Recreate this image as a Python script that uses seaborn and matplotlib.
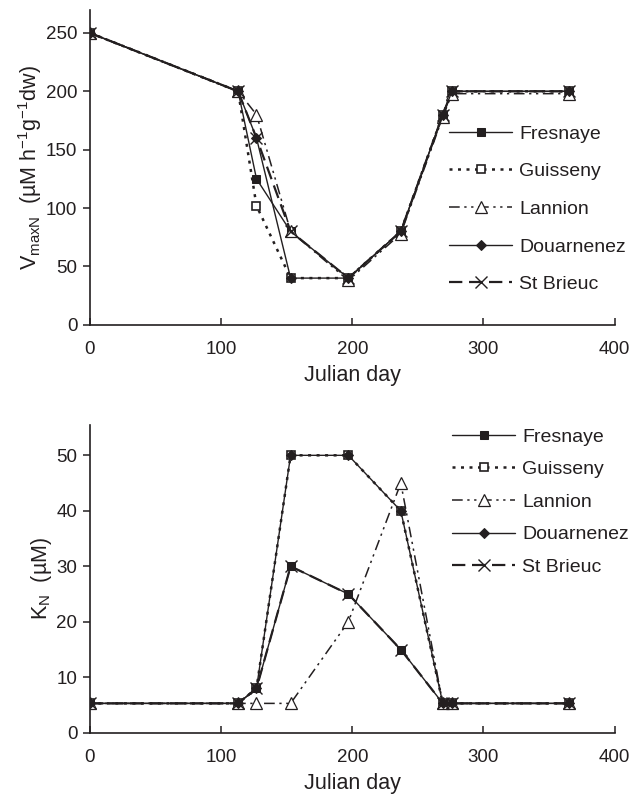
import matplotlib
matplotlib.use("Agg")
import matplotlib.pyplot as plt
import seaborn as sns
import numpy as np

sites = ["Fresnaye", "Guisseny", "Lannion", "Douarnenez", "St Brieuc"]
days = [0, 113, 127, 153, 197, 237, 269, 276, 365]

vmax_fresnaye = [250, 200, 125, 80, 40, 80, 180, 200, 200]
vmax_guisseny = [250, 200, 102, 40, 40, 80, 180, 200, 200]
vmax_lannion = [250, 200, 180, 80, 38, 78, 178, 198, 198]
vmax_douarnenez = [250, 200, 160, 40, 40, 80, 180, 200, 200]
vmax_stbrieuc = [250, 200, 160, 80, 40, 80, 180, 200, 200]

kn_fresnaye = [5.3, 5.3, 8, 30, 25, 15, 5.3, 5.3, 5.3]
kn_guisseny = [5.3, 5.3, 8, 50, 50, 40, 5.3, 5.3, 5.3]
kn_lannion = [5.3, 5.3, 5.3, 5.3, 20, 45, 5.3, 5.3, 5.3]
kn_douarnenez = [5.3, 5.3, 8, 50, 50, 40, 5.3, 5.3, 5.3]
kn_stbrieuc = [5.3, 5.3, 8, 30, 25, 15, 5.3, 5.3, 5.3]

x_ticks = [0, 100, 200, 300, 400]
vmax_ticks = [0, 50, 100, 150, 200, 250]
kn_ticks = [0, 10, 20, 30, 40, 50]

sns.set_style("ticks")
plt.rcParams["font.family"] = ["Liberation Sans", "DejaVu Sans"]
plt.rcParams["mathtext.default"] = "regular"

ink = "#231f20"
styles = {
    "Fresnaye": dict(marker="s", markersize=6, markerfacecolor=ink, markeredgecolor=ink,
                     linestyle="-", linewidth=1.0),
    "Guisseny": dict(marker="s", markersize=6, markerfacecolor="white", markeredgecolor=ink,
                     markeredgewidth=1.2, linestyle=(0, (1.2, 2.2)), linewidth=1.8),
    "Lannion": dict(marker="^", markersize=9, markerfacecolor="white", markeredgecolor=ink,
                    markeredgewidth=0.9, linestyle=(0, (7, 3, 1.5, 3, 1.5, 3)), linewidth=1.1),
    "Douarnenez": dict(marker="D", markersize=5, markerfacecolor=ink, markeredgecolor=ink,
                       linestyle="-", linewidth=1.0),
    "St Brieuc": dict(marker="x", markersize=8, markeredgecolor=ink, markeredgewidth=1.0,
                      linestyle=(0, (6, 3)), linewidth=1.6),
}

fig = plt.figure(figsize=(6.33, 8.0), dpi=100)
ax1 = fig.add_axes([0.142, 0.594, 0.829, 0.394])
ax2 = fig.add_axes([0.142, 0.084, 0.829, 0.385])

top_series = [vmax_fresnaye, vmax_guisseny, vmax_lannion, vmax_douarnenez, vmax_stbrieuc]
bot_series = [kn_fresnaye, kn_guisseny, kn_lannion, kn_douarnenez, kn_stbrieuc]

for ax, series in [(ax1, top_series), (ax2, bot_series)]:
    for name, vals in zip(sites, series):
        sns.lineplot(x=days, y=vals, ax=ax, color=ink, label=name, **styles[name])

ax1.set_ylim(0, 270)
ax1.set_yticks(vmax_ticks)
ax2.set_ylim(0, 55.5)
ax2.set_yticks(kn_ticks)

ax1.set_ylabel("V$_{maxN}$  (µM h$^{-1}$g$^{-1}$dw)", fontsize=15.5, color=ink, labelpad=1)
ax2.set_ylabel("K$_{N}$  (µM)", fontsize=15.5, color=ink, labelpad=2)

for ax in (ax1, ax2):
    ax.set_xlim(0, 400)
    ax.set_xticks(x_ticks)
    ax.set_xlabel("Julian day", fontsize=15.5, color=ink, labelpad=5)
    sns.despine(ax=ax)
    for s in ("left", "bottom"):
        ax.spines[s].set_color(ink)
        ax.spines[s].set_linewidth(1.2)
    ax.tick_params(axis="y", direction="out", length=5, width=1.1, colors=ink, labelsize=13.5, pad=4)
    ax.tick_params(axis="x", direction="in", length=5, width=1.1, colors=ink, labelsize=13.5, pad=12)
    ax.legend_.remove()

leg_kw = dict(frameon=False, fontsize=14, handlelength=3.25, handletextpad=0.35,
              borderpad=0, borderaxespad=0, loc="upper left", labelcolor=ink)
h, l = ax1.get_legend_handles_labels()
ax1.legend(h, l, bbox_to_anchor=(449 / 633, 1 - 125 / 800), bbox_transform=fig.transFigure,
           labelspacing=1.03, **leg_kw)
h, l = ax2.get_legend_handles_labels()
ax2.legend(h, l, bbox_to_anchor=(452 / 633, 1 - 428 / 800), bbox_transform=fig.transFigure,
           labelspacing=0.77, **leg_kw)

fig.savefig("out.png", dpi=100)
